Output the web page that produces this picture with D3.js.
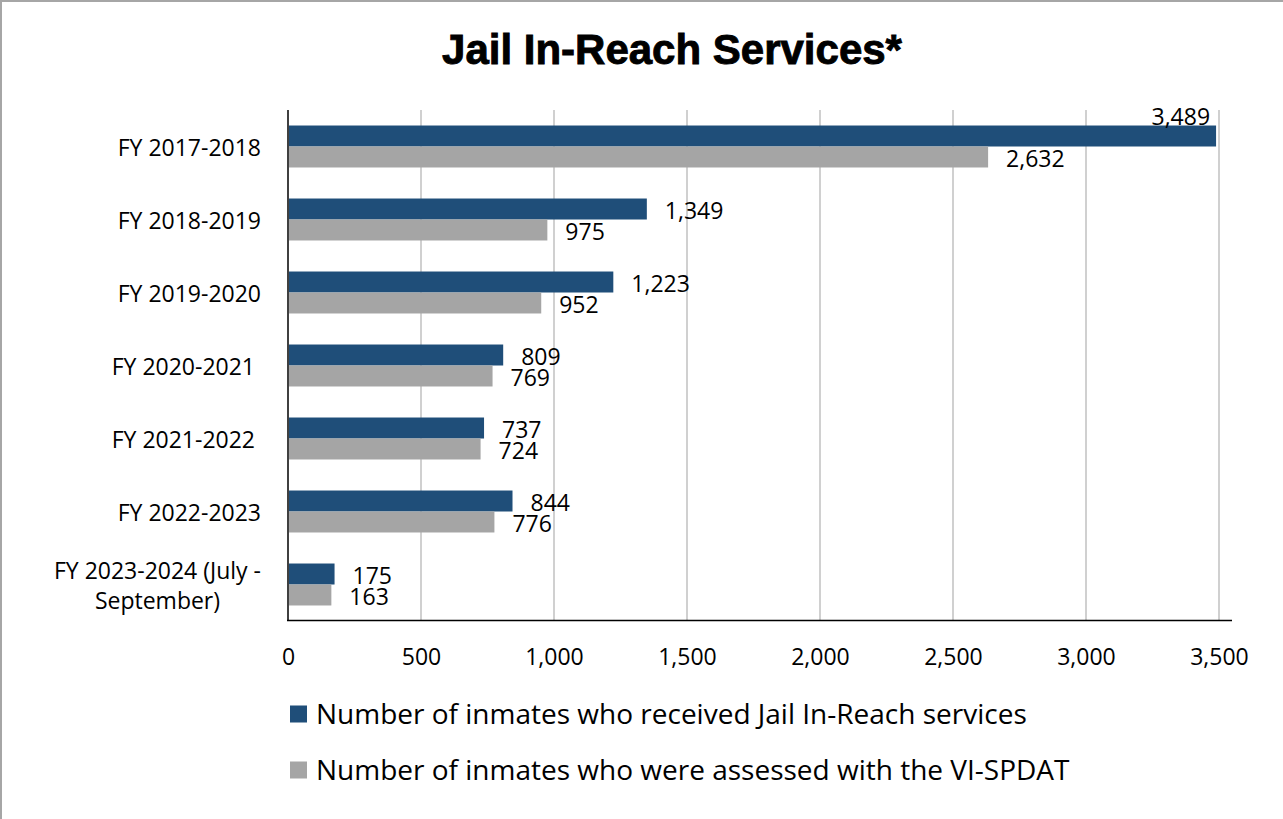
<!DOCTYPE html>
<html>
<head>
<meta charset="utf-8">
<script src="https://cdn.jsdelivr.net/npm/d3@7/dist/d3.min.js"></script>
<style>
  html, body { margin: 0; padding: 0; background: #fff; }
  svg { display: block; }
  text { white-space: pre; }
</style>
</head>
<body>
<svg id="chart" width="1283" height="819"></svg>
<script>
const categories = [
  "FY 2017-2018",
  "FY 2018-2019",
  "FY 2019-2020",
  "FY 2020-2021 ",
  "FY 2021-2022 ",
  "FY 2022-2023",
  "FY 2023-2024 (July -\nSeptember)"
];
const seriesNames = [
  "Number of inmates who received Jail In-Reach services",
  "Number of inmates who were assessed with the VI-SPDAT"
];
const receivedValues = [3489, 1349, 1223, 809, 737, 844, 175];
const assessedValues = [2632, 975, 952, 769, 724, 776, 163];
const xTicks = [0, 500, 1000, 1500, 2000, 2500, 3000, 3500];
const titleText = "Jail In-Reach Services*";

const colors = ["#1f4e79", "#a5a5a5"];
const seriesValues = [receivedValues, assessedValues];
const font = "'Open Sans', 'Noto Sans', sans-serif";
const fs = 23;

const svg = d3.select("#chart");

// outer border
svg.append("rect")
  .attr("x", 1).attr("y", 1).attr("width", 1300).attr("height", 840)
  .attr("fill", "none").attr("stroke", "#a6a6a6").attr("stroke-width", 2);

// title
svg.append("text")
  .attr("x", 672).attr("y", 64)
  .attr("text-anchor", "middle")
  .attr("font-family", "'Liberation Sans', Arial, sans-serif")
  .attr("font-weight", "bold")
  .attr("font-size", 42)
  .attr("stroke", "#000").attr("stroke-width", 0.9)
  .attr("fill", "#000")
  .text(titleText);

const plotLeft = 288, plotRight = 1219, plotTop = 110, plotBottom = 621;

const x = d3.scaleLinear().domain([0, 3500]).range([plotLeft, plotRight]);
const y = d3.scaleBand().domain(categories).range([plotTop, plotBottom])
  .paddingInner(0.425).paddingOuter(0.2125);
const ySub = d3.scaleBand().domain(d3.range(seriesNames.length)).range([0, y.bandwidth()]);

// gridlines
svg.append("g").selectAll("line")
  .data(xTicks.filter(d => d > 0))
  .join("line")
  .attr("x1", d => x(d)).attr("x2", d => x(d))
  .attr("y1", plotTop).attr("y2", plotBottom - 1)
  .attr("stroke", "#d0d0d0").attr("stroke-width", 2);

// bars
const rows = categories.map((c, i) => ({ c, vals: seriesValues.map(s => s[i]) }));
const groups = svg.append("g").selectAll("g")
  .data(rows).join("g")
  .attr("transform", d => `translate(0,${y(d.c)})`);

groups.selectAll("rect")
  .data(d => d.vals.map((v, k) => ({ v, k })))
  .join("rect")
  .attr("x", x(0))
  .attr("y", d => ySub(d.k))
  .attr("width", d => x(d.v) - x(0))
  .attr("height", ySub.bandwidth())
  .attr("fill", d => colors[d.k]);

// data labels
const fmt = d3.format(",");
groups.selectAll("text.val")
  .data(d => d.vals.map((v, k) => ({ v, k })))
  .join("text")
  .attr("class", "val")
  .attr("font-family", font)
  .attr("font-size", fs)
  .attr("fill", "#000")
  .text(d => fmt(d.v))
  .each(function(d) {
    const t = d3.select(this);
    const w = this.getComputedTextLength();
    const xe = x(d.v) + 18;
    if (xe + w > 1232) {
      t.attr("text-anchor", "end").attr("x", x(d.v) - 6).attr("y", ySub(d.k) - 1);
    } else {
      t.attr("x", xe).attr("y", ySub(d.k) + ySub.bandwidth() / 2 + 10);
    }
  });

// y axis line
svg.append("line")
  .attr("x1", plotLeft).attr("x2", plotLeft)
  .attr("y1", plotTop).attr("y2", plotBottom)
  .attr("stroke", "#404040").attr("stroke-width", 2);

// x axis
const xAxis = svg.append("g")
  .attr("transform", `translate(0,${plotBottom - 0.5})`)
  .call(d3.axisBottom(x).tickValues(xTicks).tickSize(0).tickFormat(fmt));
xAxis.select(".domain").remove();
xAxis.selectAll("text")
  .attr("y", 44).attr("dy", null)
  .attr("font-family", font).attr("font-size", fs).attr("fill", "#000");
svg.append("line")
  .attr("x1", plotLeft - 1).attr("x2", 1232)
  .attr("y1", plotBottom - 0.5).attr("y2", plotBottom - 0.5)
  .attr("stroke", "#000").attr("stroke-width", 1.5);

// category labels
const catG = svg.append("g");
categories.forEach(c => {
  const lines = c.split("\n");
  const lh = 30;
  const cy = y(c) + y.bandwidth() / 2;
  const tmp = catG.append("g");
  const texts = lines.map((ln, i) => tmp.append("text")
    .attr("font-family", font).attr("font-size", fs).attr("fill", "#000")
    .attr("y", cy + 9.5 + (i - (lines.length - 1) / 2) * lh)
    .text(ln));
  const maxW = d3.max(texts, t => t.node().getComputedTextLength());
  const cx = 261 - maxW / 2;
  texts.forEach(t => t.attr("text-anchor", "middle").attr("x", cx));
});

// legend
const legend = svg.append("g");
seriesNames.forEach((name, i) => {
  const ly = 714 + i * 56;
  legend.append("rect")
    .attr("x", 290).attr("y", ly - 8.5).attr("width", 17).attr("height", 17)
    .attr("fill", colors[i]);
  legend.append("text")
    .attr("x", 316).attr("y", ly + 10)
    .attr("font-family", font).attr("font-size", 28).attr("fill", "#000")
    .text(name);
});
</script>
</body>
</html>
